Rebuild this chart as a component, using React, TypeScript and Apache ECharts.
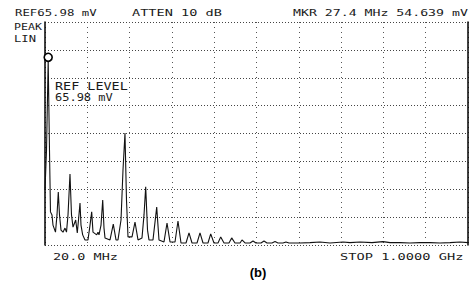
import React, { useEffect, useRef } from "react";
import * as echarts from "echarts";

// Spectrum analyser settings
const START_MHZ = 20;
const STOP_MHZ = 1000;
const REF_LEVEL_MV = 65.98;
const X_DIVS = 10;
const Y_DIVS = 8;

const MARKER_MHZ = 27.4;
const MARKER_MV = 54.639;

// Trace: frequency (MHz) and level (mV)
const FREQ_MHZ = [
  20.0, 23.5, 27.4, 30.4, 32.7, 36.2, 38.5, 44.3, 47.8, 50.8, 53.6, 57.1, 61.7, 66.3, 69.8,
  73.3, 77.9, 81.4, 84.9, 91.1, 94.8, 97.6, 101.1, 103.4, 107.3, 112.7, 119.6, 124.3, 128.2,
  131.2, 139.8, 142.8, 145.1, 149.8, 153.7, 156.7, 159.0, 170.6, 178.2, 184.5, 189.1, 196.1,
  200.7, 205.3, 208.8, 212.3, 221.6, 228.5, 235.5, 244.7, 249.4, 253.3, 257.5, 260.9, 270.2,
  278.8, 284.1, 295.7, 302.7, 309.6, 321.2, 328.1, 335.1, 346.7, 353.6, 360.6, 372.2, 379.1,
  386.1, 397.6, 403.9, 411.5, 420.8, 427.1, 434.7, 446.3, 452.5, 460.2, 471.8, 476.4, 483.4,
  495.0, 501.9, 508.8, 520.4, 527.4, 534.3, 545.9, 552.9, 559.8, 571.4, 578.3, 585.3, 610.8,
  634.0, 657.1, 680.3, 710.4, 726.6, 749.8, 777.6, 803.1, 819.3, 842.5, 865.6, 888.8, 912.0,
  935.2, 958.3, 981.5, 1000.0,
];
const LEVEL_MV = [
  16.3, 28.1, 54.6, 28.1, 9.8, 8.9, 5.9, 3.8, 8.9, 15.7, 8.9, 4.4, 3.8, 5.0, 3.8,
  8.9, 21.0, 8.9, 5.3, 7.4, 3.6, 7.4, 12.4, 5.9, 3.0, 1.5, 1.5, 5.9, 9.8,
  3.8, 3.0, 3.8, 3.0, 5.9, 13.3, 5.0, 2.1, 1.5, 6.2, 1.5, 1.5, 7.4,
  22.2, 33.1, 13.3, 2.4, 2.4, 6.8, 1.5, 2.1, 8.9, 17.2, 4.4, 1.5, 1.5,
  11.2, 1.5, 0.9, 6.5, 0.9, 0.9, 7.1, 0.6, 0.6, 3.6, 0.6, 0.6, 3.6,
  0.6, 0.6, 3.3, 0.6, 0.6, 2.4, 0.6, 0.6, 2.1, 0.6, 0.6, 1.5, 0.6,
  0.6, 1.2, 0.6, 0.6, 1.2, 0.6, 0.6, 1.0, 0.6, 0.6, 0.9, 0.6, 0.6,
  0.7, 0.9, 0.6, 0.9, 0.7, 0.9, 0.7, 1.0, 0.7, 0.7, 0.6, 0.7, 0.7,
  0.6, 0.7, 0.9, 0.7,
];

// Screen annotations
const HEADER_LEFT = "REF65.98 mV";
const HEADER_MID = "ATTEN 10 dB";
const HEADER_RIGHT = "MKR 27.4 MHz 54.639 mV";
const MODE_1 = "PEAK";
const MODE_2 = "LIN";
const REF_LABEL_1 = "REF LEVEL";
const REF_LABEL_2 = "65.98 mV";
const START_LABEL = "20.0 MHz";
const STOP_LABEL = "STOP 1.0000 GHz";
const CAPTION = "(b)";

const MONO = "'DejaVu Sans Mono', 'Liberation Mono', monospace";

export default function App() {
  const ref = useRef<HTMLDivElement>(null);

  useEffect(() => {
    document.body.style.margin = "0";
    if (!ref.current) return;
    const chart = echarts.init(ref.current, undefined, { renderer: "svg" });
    const span = STOP_MHZ - START_MHZ;
    const data = FREQ_MHZ.map((f, i) => [f - START_MHZ, LEVEL_MV[i]]);

    const monoText = (
      text: string,
      x: number,
      y: number,
      size: number,
      sx: number
    ) => ({
      type: "text",
      x,
      y,
      scaleX: sx,
      silent: true,
      style: {
        text,
        font: `${size}px ${MONO}`,
        fill: "#1a1a1a",
        verticalAlign: "middle",
        align: "left",
      },
    });

    const gridDot = { color: "#444", width: 1, type: [1, 2] as number[] };

    chart.setOption({
      animation: false,
      backgroundColor: "#ffffff",
      grid: { left: 45, right: 5, top: 22, bottom: 39, containLabel: false },
      xAxis: {
        type: "value",
        min: 0,
        max: span,
        interval: span / X_DIVS,
        axisLine: { show: false },
        axisTick: { show: false },
        axisLabel: { show: false },
        splitLine: {
          show: true,
          lineStyle: { color: "#555", width: 1, type: [1, 4] },
        },
      },
      yAxis: [
        {
          type: "value",
          min: 0,
          max: REF_LEVEL_MV,
          interval: REF_LEVEL_MV / Y_DIVS,
          axisLine: { show: true, onZero: false, lineStyle: { color: "#000", width: 1.5 } },
          axisTick: { show: false },
          axisLabel: { show: false },
          splitLine: { show: true, lineStyle: gridDot },
        },
        {
          type: "value",
          position: "right",
          min: 0,
          max: REF_LEVEL_MV,
          interval: REF_LEVEL_MV / Y_DIVS,
          axisLine: { show: true, onZero: false, lineStyle: { color: "#000", width: 1.5 } },
          axisTick: { show: false },
          axisLabel: { show: false },
          splitLine: { show: false },
        },
      ],
      series: [
        {
          type: "line",
          data,
          showSymbol: false,
          lineStyle: { color: "#111", width: 1.1 },
          markPoint: {
            silent: true,
            symbol: "circle",
            symbolSize: 8,
            symbolOffset: [0, -3],
            itemStyle: { color: "#fff", borderColor: "#000", borderWidth: 1.6 },
            label: { show: false },
            data: [{ coord: [MARKER_MHZ - START_MHZ, MARKER_MV] }],
          },
        },
      ],
      graphic: [
        monoText(HEADER_LEFT, 15, 12.7, 9.5, 1.3),
        monoText(HEADER_MID, 132, 12.7, 9.5, 1.43),
        monoText(HEADER_RIGHT, 293, 12.7, 9.5, 1.39),
        monoText(MODE_1, 14, 26.5, 9.5, 1.22),
        monoText(MODE_2, 14, 38.5, 9.5, 1.28),
        monoText(REF_LABEL_1, 55, 87, 10.5, 1.28),
        monoText(REF_LABEL_2, 55, 98, 10, 1.2),
        monoText(START_LABEL, 53, 256.5, 9.5, 1.42),
        monoText(STOP_LABEL, 340, 256.5, 9.5, 1.44),
        {
          type: "text",
          x: 258,
          y: 272,
          silent: true,
          style: {
            text: CAPTION,
            font: "bold 13px 'Liberation Sans', Arial, sans-serif",
            fill: "#000",
            align: "center",
            verticalAlign: "middle",
          },
        },
      ],
    });

    return () => chart.dispose();
  }, []);

  return (
    <div
      ref={ref}
      style={{
        position: "absolute",
        left: 0,
        top: 0,
        width: 473,
        height: 284,
        overflow: "hidden",
        background: "#fff",
      }}
    />
  );
}
